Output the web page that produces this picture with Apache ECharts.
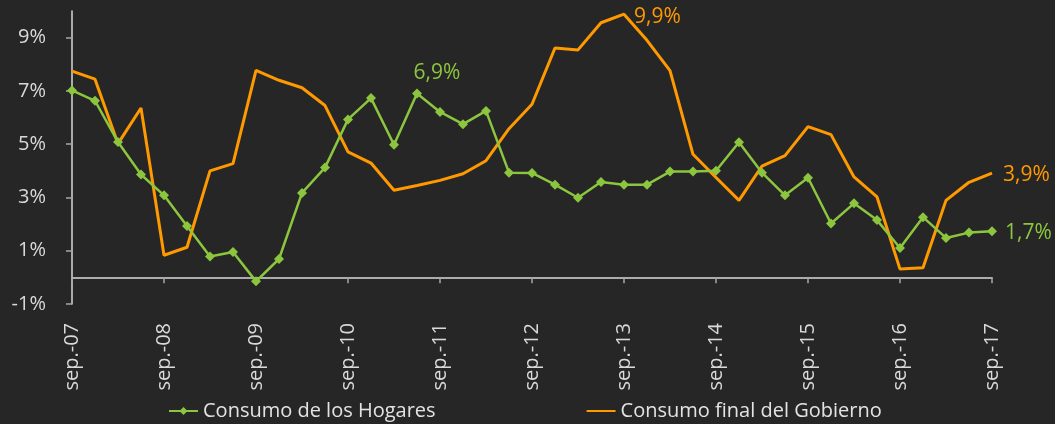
<!DOCTYPE html>
<html>
<head>
<meta charset="utf-8">
<script src="https://cdn.jsdelivr.net/npm/echarts@6/dist/echarts.min.js"></script>
<style>
  html, body { margin: 0; padding: 0; background: #262626; }
  #main { width: 1055px; height: 424px; }
</style>
</head>
<body>
<div id="main"></div>
<script>
var categories = [
  'sep.-07', 'dic.-07', 'mar.-08', 'jun.-08', 'sep.-08', 'dic.-08', 'mar.-09', 'jun.-09',
  'sep.-09', 'dic.-09', 'mar.-10', 'jun.-10', 'sep.-10', 'dic.-10', 'mar.-11', 'jun.-11',
  'sep.-11', 'dic.-11', 'mar.-12', 'jun.-12', 'sep.-12', 'dic.-12', 'mar.-13', 'jun.-13',
  'sep.-13', 'dic.-13', 'mar.-14', 'jun.-14', 'sep.-14', 'dic.-14', 'mar.-15', 'jun.-15',
  'sep.-15', 'dic.-15', 'mar.-16', 'jun.-16', 'sep.-16', 'dic.-16', 'mar.-17', 'jun.-17',
  'sep.-17'
];
var hogares = [
  7.02, 6.63, 5.08, 3.86, 3.08, 1.93, 0.78, 0.95, -0.15, 0.69, 3.17, 4.12, 5.93, 6.73,
  4.98, 6.9, 6.21, 5.75, 6.25, 3.93, 3.92, 3.48, 2.99, 3.58, 3.48, 3.48, 3.97, 3.97,
  4.0, 5.07, 3.93, 3.08, 3.74, 2.02, 2.78, 2.15, 1.10, 2.26, 1.48, 1.68, 1.73
];
var gobierno = [
  7.74, 7.44, 5.02, 6.36, 0.83, 1.13, 4.0, 4.27, 7.77, 7.40, 7.12, 6.45, 4.71, 4.29,
  3.27, 3.45, 3.64, 3.89, 4.38, 5.58, 6.50, 8.61, 8.54, 9.56, 9.88, 8.90, 7.76, 4.62,
  3.75, 2.89, 4.18, 4.57, 5.66, 5.36, 3.77, 3.02, 0.31, 0.36, 2.89, 3.57, 3.91
];
var yTicks = [-1, 1, 3, 5, 7, 9];
// puntos con etiqueta: [indice, posicion]
var hogaresLabels = [[15, 'top'], [40, 'right']];
var gobiernoLabels = [[24, 'right'], [40, 'right']];

var GREEN = '#8CC63F';
var ORANGE = '#FF9900';
var TEXT = '#D9D9D9';
var FONT = 'Open Sans';

function pct(p) {
  return p.value.toFixed(1).replace('.', ',') + '%';
}

function withLabels(values, labels, color, offsets) {
  var data = values.map(function (v) { return v; });
  labels.forEach(function (l, k) {
    data[l[0]] = {
      value: values[l[0]],
      label: {
        show: true,
        position: l[1],
        distance: 8,
        offset: offsets[k],
        color: color,
        fontFamily: FONT,
        fontSize: 21,
        formatter: pct
      }
    };
  });
  return data;
}

var myChart = echarts.init(document.getElementById('main'));
var option = {
  backgroundColor: '#262626',
  animation: false,
  textStyle: { fontFamily: FONT },
  grid: { left: 72, right: 63, top: 11, bottom: 120 },
  legend: {
    left: 163,
    top: 396,
    itemWidth: 29,
    itemHeight: 10,
    itemGap: 150,
    textStyle: { color: '#E3E3E3', fontSize: 20, fontFamily: FONT },
    data: [
      { name: 'Consumo de los Hogares' },
      { name: 'Consumo final del Gobierno', itemStyle: { opacity: 0 } }
    ]
  },
  xAxis: {
    type: 'category',
    data: categories,
    boundaryGap: false,
    axisLine: { onZero: true, lineStyle: { color: TEXT, width: 1.5 } },
    axisTick: { interval: 3, length: 6, lineStyle: { color: '#A6A6A6', width: 1.5 } },
    axisLabel: {
      interval: 3,
      rotate: 90,
      margin: 19,
      color: TEXT,
      fontSize: 20,
      fontFamily: FONT
    },
    splitLine: { show: false }
  },
  yAxis: {
    type: 'value',
    min: -1,
    max: 10,
    axisLine: { show: true, lineStyle: { color: TEXT, width: 1.5 } },
    axisTick: { show: true, length: 6, customValues: yTicks, lineStyle: { color: '#A6A6A6', width: 1.5 } },
    axisLabel: {
      customValues: yTicks,
      formatter: '{value}%',
      color: TEXT,
      fontSize: 20,
      fontFamily: FONT,
      margin: 26
    },
    splitLine: { show: false }
  },
  series: [
    {
      name: 'Consumo de los Hogares',
      type: 'line',
      data: withLabels(hogares, hogaresLabels, GREEN, [[20, 3], [0, 2]]),
      symbol: 'diamond',
      symbolSize: 10,
      showSymbol: true,
      lineStyle: { color: GREEN, width: 2.5 },
      itemStyle: { color: GREEN },
      z: 3
    },
    {
      name: 'Consumo final del Gobierno',
      type: 'line',
      data: withLabels(gobierno, gobiernoLabels, ORANGE, [[2, 3], [3, 2]]),
      symbol: 'circle',
      symbolSize: 0,
      showSymbol: true,
      lineStyle: { color: ORANGE, width: 3 },
      itemStyle: { color: ORANGE },
      z: 2
    }
  ]
};
myChart.setOption(option);
</script>
</body>
</html>
